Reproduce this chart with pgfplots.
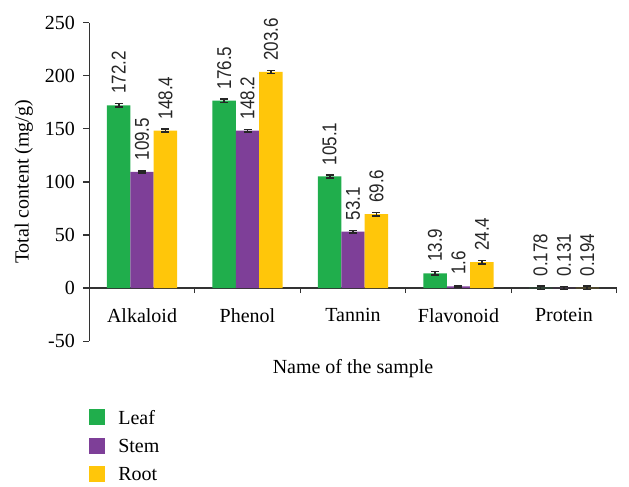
\documentclass[border=0pt]{standalone}
\usepackage{fontspec}
\setmainfont{Liberation Serif}
\newfontfamily\valfont[FakeStretch=0.85]{Liberation Sans}
\usepackage{pgfplots}
\usepackage{pgfplotstable}
\pgfplotsset{compat=1.18}
\definecolor{cleaf}{RGB}{32,174,76}
\definecolor{cstem}{RGB}{126,63,152}
\definecolor{croot}{RGB}{255,198,10}

\pgfplotstableread{
x y e l
0 172.2 1.5 172.2
1 176.5 1.5 176.5
2 105.1 1.2 105.1
3 13.9 1.5 13.9
4 0.178 1.5 0.178
}\leaf
\pgfplotstableread{
x y e l
0 109.5 1.0 109.5
1 148.2 1.0 148.2
2 53.1 1.0 53.1
3 1.6 0.8 1.6
4 0.131 1.5 0.131
}\stem
\pgfplotstableread{
x y e l
0 148.4 1.5 148.4
1 203.6 1.5 203.6
2 69.6 1.5 69.6
3 24.4 1.5 24.4
4 0.194 1.5 0.194
}\root

\begin{document}
\begin{tikzpicture}
\begin{axis}[
  name=ax,
  scale only axis, width=263.7pt, height=159.2pt,
  xmin=-0.5, xmax=4.5, ymin=-50, ymax=250,
  axis x line=middle, axis y line=left,
  axis line style={-, black!80, line width=0.6pt},
  every tick/.style={black!80, line width=0.6pt},
  ytick={-50,0,...,250},
  ytick align=outside, xtick align=outside,
  major tick length=3pt, minor tick length=2.5pt,
  xtick={0,1,2,3,4},
  xticklabels={Alkaloid,Phenol,Tannin,Flavonoid,Protein},
  minor xtick={0.5,1.5,2.5,3.5,4.5},
  major x tick style={draw=none},
  /pgf/number format/assume math mode=true,
  yticklabel style={inner sep=0pt, xshift=-4pt},
  xticklabel style={inner sep=0pt, anchor=north, yshift=-7pt},
  ylabel={Total content (mg/g)},
  ylabel style={at={(axis description cs:-0.124,0.5)}, anchor=center, inner sep=0pt},
  xlabel={Name of the sample},
  xlabel style={at={(axis description cs:0.5,0)}, anchor=north, inner sep=0pt, yshift=-9pt},
  ybar=0pt, bar width=11.7pt,
  point meta=explicit symbolic,
  nodes near coords,
  every node near coord/.append style={rotate=90, anchor=west, font=\valfont, inner xsep=5.5pt, inner ysep=0pt, text=black!85},
  legend style={draw=none, fill=none, at={(0,0)}, anchor=north west, yshift=-34pt,
    inner sep=0pt, outer sep=0pt, row sep=5pt, nodes={inner sep=0pt}},
  legend cell align=left,
  legend image code/.code={\fill[#1, draw=none] (0pt,-3pt) rectangle (8pt,5pt); \path (14.5pt,0pt);},
]
\addplot[fill=cleaf, draw=none, error bars/.cd, y dir=both, y explicit,
  error bar style={line width=0.9pt, black!85}, error mark options={rotate=90, mark size=2pt, line width=0.8pt, black!85}]
  table[x=x, y=y, y error=e, meta=l] {\leaf};
\addplot[fill=cstem, draw=none, error bars/.cd, y dir=both, y explicit,
  error bar style={line width=0.9pt, black!85}, error mark options={rotate=90, mark size=2pt, line width=0.8pt, black!85}]
  table[x=x, y=y, y error=e, meta=l] {\stem};
\addplot[fill=croot, draw=none, error bars/.cd, y dir=both, y explicit,
  error bar style={line width=0.9pt, black!85}, error mark options={rotate=90, mark size=2pt, line width=0.8pt, black!85}]
  table[x=x, y=y, y error=e, meta=l] {\root};
\legend{Leaf,Stem,Root}
\end{axis}
\pgfresetboundingbox
\path ([shift={(-44.65pt,-72.5pt)}]ax.south west) rectangle ([shift={(6.15pt,11.35pt)}]ax.north east);
\end{tikzpicture}
\end{document}
